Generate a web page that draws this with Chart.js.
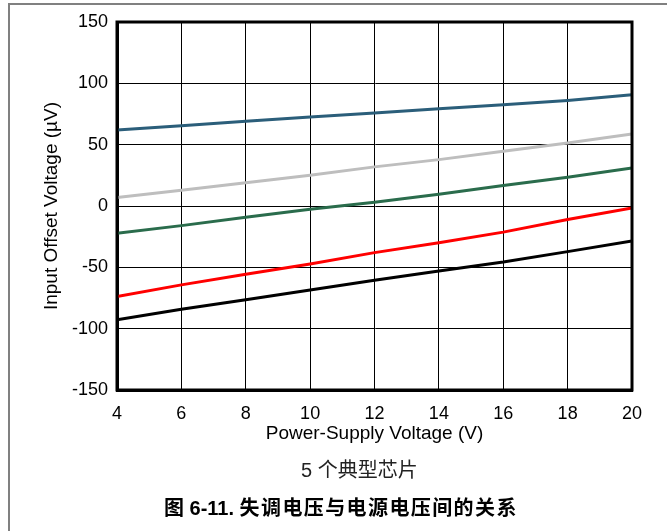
<!DOCTYPE html>
<html>
<head>
<meta charset="utf-8">
<script src="https://cdn.jsdelivr.net/npm/chart.js@4"></script>
<style>
  html, body { margin:0; padding:0; width:667px; height:531px; overflow:hidden; background:#fff; }
  #frame { position:absolute; left:8px; top:3px; width:800px; height:800px; border-top:2px solid #808080; border-left:2px solid #808080; box-sizing:border-box; }
  #wrap { position:absolute; left:0; top:0; width:667px; height:531px; }
  .txt { position:absolute; white-space:nowrap; }
  #caption { left:301px; top:458px; font:20px "Liberation Sans", "Noto Sans CJK SC", sans-serif; line-height:24px; color:#222; }
  #title { left:164px; top:496px; font:bold 20px "Liberation Sans", "Noto Sans CJK SC", sans-serif; line-height:24px; color:#000; }
  #title .cjk { letter-spacing:1.4px; }
</style>
</head>
<body>
<div id="frame"></div>
<div id="wrap"><canvas id="c" width="667" height="531"></canvas></div>
<div class="txt" id="caption">5 个典型芯片</div>
<div class="txt" id="title">图 6-11. <span class="cjk">失调电压与电源电压间的关系</span></div>
<script>
// ---- data ----
const supplyVoltage = [4, 6, 8, 10, 12, 14, 16, 18, 20];
const unitBlue  = [62, 65.5, 69, 72.5, 75.8, 79.3, 82.5, 86, 90.6];
const unitGray  = [7, 12.8, 19, 25, 31.9, 37.8, 44.6, 51.4, 58.7];
const unitGreen = [-22.2, -16, -9.2, -2.7, 3.1, 9.6, 16.7, 23.4, 31];
const unitRed   = [-73.8, -64.3, -55.6, -47.2, -38, -29.9, -21.3, -11, -1.6];
const unitBlack = [-92.8, -84.1, -76.5, -68.4, -60.6, -53, -45.7, -37.2, -28.6];
const xTickValues = [4, 6, 8, 10, 12, 14, 16, 18, 20];
const yTickValues = [-150, -100, -50, 0, 50, 100, 150];
const xTitle = 'Power-Supply Voltage (V)';
const yTitle = 'Input Offset Voltage (\u00B5V)';

const seriesList = [
  { name: 'Unit 1', values: unitBlue,  color: '#2B5E7A' },
  { name: 'Unit 2', values: unitGray,  color: '#BEBEBE' },
  { name: 'Unit 3', values: unitGreen, color: '#2A6C4C' },
  { name: 'Unit 4', values: unitRed,   color: '#FF0000' },
  { name: 'Unit 5', values: unitBlack, color: '#000000' }
];

const FONT = '"Liberation Sans", Arial, sans-serif';

const frameBox = {
  id: 'frameBox',
  afterDraw(chart) {
    const a = chart.chartArea, ctx = chart.ctx;
    ctx.save();
    ctx.strokeStyle = '#000';
    ctx.lineWidth = 3;
    ctx.strokeRect(a.left, a.top, a.right - a.left, a.bottom - a.top);
    ctx.restore();
  }
};

new Chart(document.getElementById('c'), {
  type: 'line',
  data: {
    datasets: seriesList.map(s => ({
      label: s.name,
      data: supplyVoltage.map((v, i) => ({ x: v, y: s.values[i] })),
      borderColor: s.color,
      backgroundColor: s.color,
      borderWidth: 3,
      pointRadius: 0,
      tension: 0,
      fill: false
    }))
  },
  options: {
    responsive: false,
    animation: false,
    events: [],
    layout: { padding: { left: 0, top: 22, right: 35, bottom: 80 } },
    plugins: { legend: { display: false }, tooltip: { enabled: false } },
    scales: {
      x: {
        type: 'linear', min: 4, max: 20,
        afterBuildTicks(scale) { scale.ticks = xTickValues.map(v => ({ value: v })); },
        afterFit(scale) { scale.height = 61; },
        ticks: { font: { family: FONT, size: 18 }, color: '#000', padding: 13, maxRotation: 0 },
        grid: { color: '#000', lineWidth: 1, drawTicks: false },
        border: { color: '#000', width: 3 },
        title: { display: true, text: xTitle, font: { family: FONT, size: 19 }, color: '#000', padding: { top: 0, bottom: 6 } }
      },
      y: {
        type: 'linear', min: -150, max: 150,
        afterBuildTicks(scale) { scale.ticks = yTickValues.map(v => ({ value: v })); },
        afterFit(scale) { scale.width = 117; },
        ticks: { font: { family: FONT, size: 18 }, color: '#000', padding: 9 },
        grid: { color: '#000', lineWidth: 1, drawTicks: false },
        border: { color: '#000', width: 3 },
        title: { display: true, text: yTitle, font: { family: FONT, size: 19 }, color: '#000', padding: { top: 40, bottom: 0 } }
      }
    }
  },
  plugins: [frameBox]
});
</script>
</body>
</html>
